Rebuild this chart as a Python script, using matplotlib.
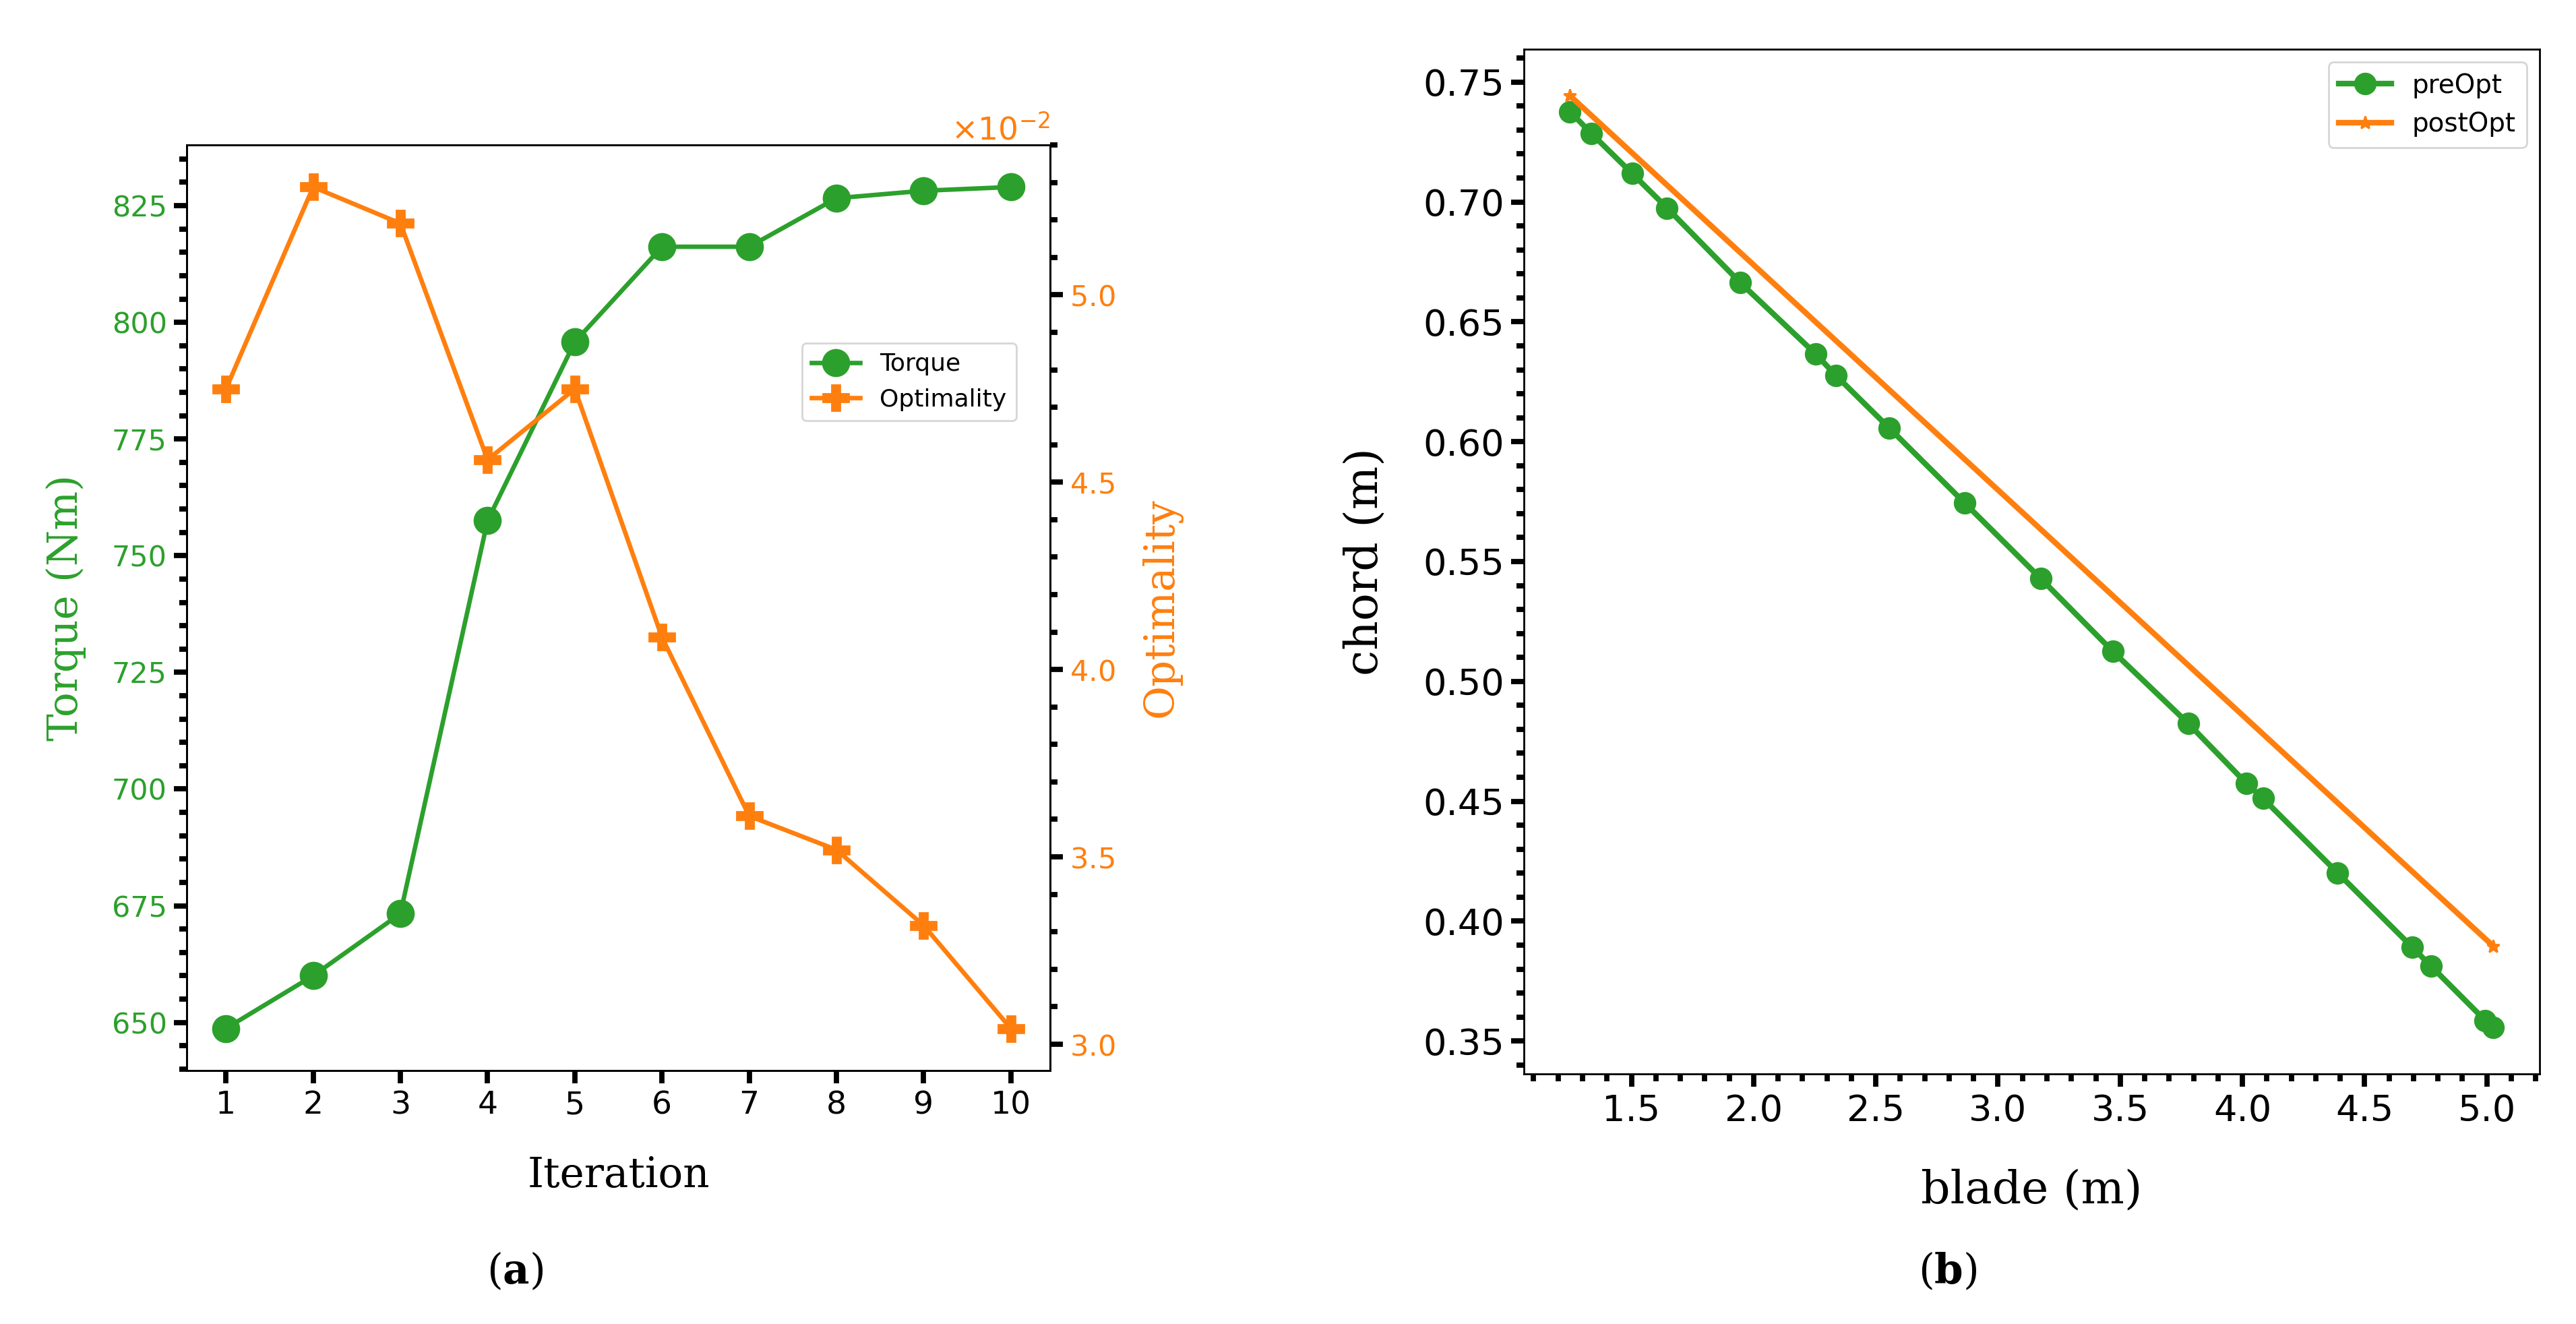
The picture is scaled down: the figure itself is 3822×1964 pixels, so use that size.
import numpy as np
import matplotlib
matplotlib.use("Agg")
import matplotlib.pyplot as plt
from matplotlib.ticker import MultipleLocator

# (a) optimisation history
iterations = [1, 2, 3, 4, 5, 6, 7, 8, 9, 10]
torque = [648.7, 660.0, 673.3, 757.5, 795.8, 816.2, 816.2, 826.6, 828.2, 829.0]
optimality = [0.04749, 0.05288, 0.05191, 0.04560, 0.04749, 0.04086,
              0.03609, 0.03519, 0.03317, 0.03042]

# (b) chord distribution
blade_pre = [1.249, 1.337, 1.503, 1.646, 1.944, 2.253, 2.338, 2.555, 2.863, 3.175,
             3.470, 3.779, 4.016, 4.084, 4.389, 4.694, 4.772, 4.993, 5.025]
chord_pre = [0.7377, 0.7285, 0.7119, 0.6975, 0.6665, 0.6367, 0.6275, 0.6057, 0.5745,
             0.5429, 0.5125, 0.4824, 0.4575, 0.4512, 0.4202, 0.3892, 0.3812, 0.3586,
             0.3557]
blade_post = [1.249, 5.027]
chord_post = [0.7443, 0.3895]

green = "tab:green"
orange = "tab:orange"
W, H = 3823, 1964

fig = plt.figure(figsize=(W / 200, H / 200), dpi=200)

def frac(x0, y0, x1, y1):
    # pixel box -> figure fraction
    return [x0 / W, 1 - y1 / H, (x1 - x0) / W, (y1 - y0) / H]

ax1 = fig.add_axes(frac(277, 215, 1558, 1588))
ax2 = ax1.twinx()
ax3 = fig.add_axes(frac(2261, 73, 3768, 1593))

for a in (ax1, ax2, ax3):
    for s in a.spines.values():
        s.set_linewidth(1.0)

l1, = ax1.plot(iterations, torque, color=green, marker="o", ms=14, lw=2.4, label="Torque")
l2, = ax2.plot(iterations, optimality, color=orange, marker="P", ms=14, lw=2.4, label="Optimality")

ax1.set_xticks(iterations)
ax1.yaxis.set_major_locator(MultipleLocator(25))
ax1.yaxis.set_minor_locator(MultipleLocator(5))
ax2.yaxis.set_major_locator(MultipleLocator(0.005))
ax2.yaxis.set_minor_locator(MultipleLocator(0.001))
ax2.ticklabel_format(axis="y", style="sci", scilimits=(0, 0), useMathText=True)

ax1.tick_params(which="major", length=7, width=2.8)
ax1.tick_params(which="minor", length=4, width=2.8)
ax2.tick_params(which="major", length=7, width=2.8)
ax2.tick_params(which="minor", length=4, width=2.8)
ax1.tick_params(axis="x", labelsize=17)
ax1.tick_params(axis="y", labelsize=15.5, labelcolor=green)
ax2.tick_params(axis="y", labelsize=15.5, labelcolor=orange)
ax2.yaxis.get_offset_text().set_color(orange)
ax2.yaxis.get_offset_text().set_fontsize(17)

lab_font = dict(family="DejaVu Serif", fontsize=22)
ax1.set_xlabel("Iteration", **lab_font)
ax1.set_ylabel("Torque (Nm)", color=green, **lab_font)
ax2.set_ylabel("Optimality", color=orange, **lab_font)
ax1.xaxis.set_label_coords(0.5, -0.1136)
ax1.xaxis.label.set_va("center")
ax1.yaxis.set_label_coords(-0.1397, 0.5)
ax1.yaxis.label.set_va("center")
ax2.yaxis.set_label_coords(1.1288, 0.5)
ax2.yaxis.label.set_va("center")

ax2.legend(handles=[l1, l2], loc="center right", bbox_to_anchor=(0.975, 0.744), fontsize=13)

# right panel
ax3.plot(blade_pre, chord_pre, color=green, marker="o", ms=11, lw=3, label="preOpt")
ax3.plot(blade_post, chord_post, color=orange, marker="*", ms=7, lw=3, label="postOpt")
ax3.xaxis.set_major_locator(MultipleLocator(0.5))
ax3.xaxis.set_minor_locator(MultipleLocator(0.1))
ax3.yaxis.set_major_locator(MultipleLocator(0.05))
ax3.yaxis.set_minor_locator(MultipleLocator(0.01))
ax3.tick_params(which="major", length=7, width=2.8, labelsize=19.5)
ax3.tick_params(which="minor", length=4, width=2.8)
lab_font_b = dict(family="DejaVu Serif", fontsize=24.5)
ax3.set_xlabel("blade (m)", **lab_font_b)
ax3.set_ylabel("chord (m)", **lab_font_b)
ax3.xaxis.set_label_coords(0.5, -0.1138)
ax3.xaxis.label.set_va("center")
ax3.yaxis.set_label_coords(-0.1566, 0.5)
ax3.yaxis.label.set_va("center")
ax3.legend(loc="upper right", fontsize=14)

# sub captions
for xp, letter in ((764, "a"), (2890, "b")):
    fig.text(xp / W, 1 - 1887 / H, r"($\mathbf{" + letter + "}$)", ha="center", va="center",
             family="DejaVu Serif", fontsize=22, math_fontfamily="dejavuserif")

fig.savefig("out.png", dpi=200)
